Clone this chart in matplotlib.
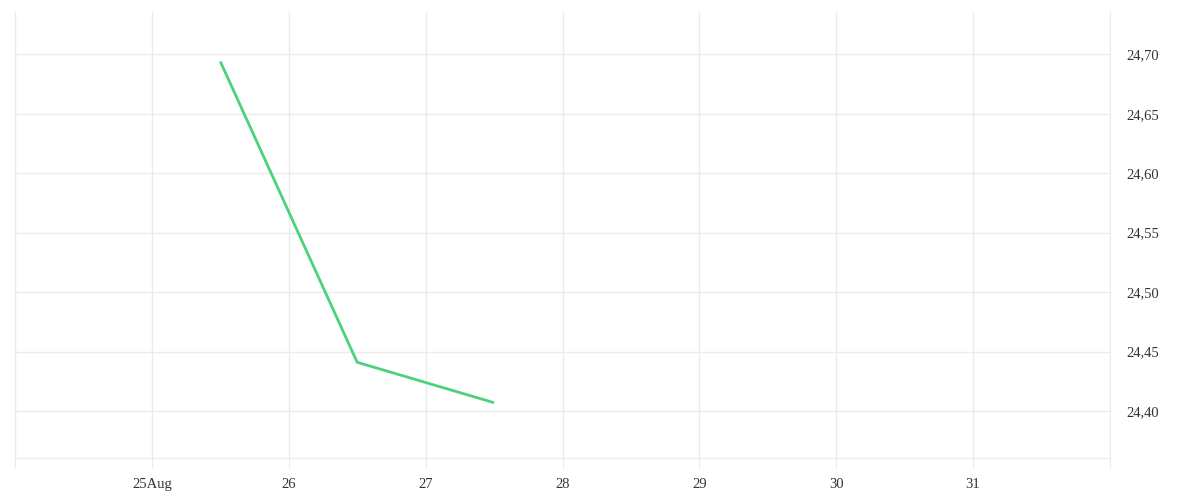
import numpy as np
import matplotlib
matplotlib.use("Agg")
import matplotlib.pyplot as plt
import matplotlib.dates as mdates
from matplotlib.ticker import FuncFormatter, MultipleLocator
from datetime import datetime

# datos
fechas = [datetime(2024, 8, 25, 12), datetime(2024, 8, 26, 12), datetime(2024, 8, 27, 12)]
valores = [24.694, 24.441, 24.407]

x_min = datetime(2024, 8, 24)
x_max = datetime(2024, 9, 1)
y_min, y_max = 24.3605, 24.7356

grid_color = "#ebebeb"
text_color = "#333333"
line_color = "#4cd27c"

plt.rcParams["font.family"] = ["Liberation Serif", "DejaVu Serif"]

fig = plt.figure(figsize=(12, 5), dpi=100)
ax = fig.add_axes([15 / 1200, 1 - 458 / 500, 1095 / 1200, 446 / 500])

ax.plot(fechas, valores, color=line_color, lw=2, solid_capstyle="butt", zorder=3)

ax.set_xlim(x_min, x_max)
ax.set_ylim(y_min, y_max)

# eje x: un tick por dia
ax.xaxis.set_major_locator(mdates.DayLocator())


def formato_fecha(x, pos):
    d = mdates.num2date(x)
    if d.day == 25:
        return "25Aug"
    if d.day in (24, 1):
        return ""
    return str(d.day)


ax.xaxis.set_major_formatter(FuncFormatter(formato_fecha))

# eje y a la derecha con coma decimal
ax.yaxis.tick_right()
ax.yaxis.set_major_locator(MultipleLocator(0.05))
ax.yaxis.set_major_formatter(FuncFormatter(lambda v, p: f"{v:.2f}".replace(".", ",")))

ax.grid(True, color=grid_color, lw=1)
ax.set_axisbelow(True)
ax.spines["top"].set_visible(False)
for s in ["bottom", "left", "right"]:
    ax.spines[s].set_color(grid_color)

ax.tick_params(axis="x", length=7.2, color=grid_color, labelcolor=text_color,
               labelsize=10.5, pad=7.5)
ax.tick_params(axis="y", length=0, labelcolor=text_color, labelsize=10.5, pad=12)

fig.savefig("out.png", dpi=100, facecolor="white")
